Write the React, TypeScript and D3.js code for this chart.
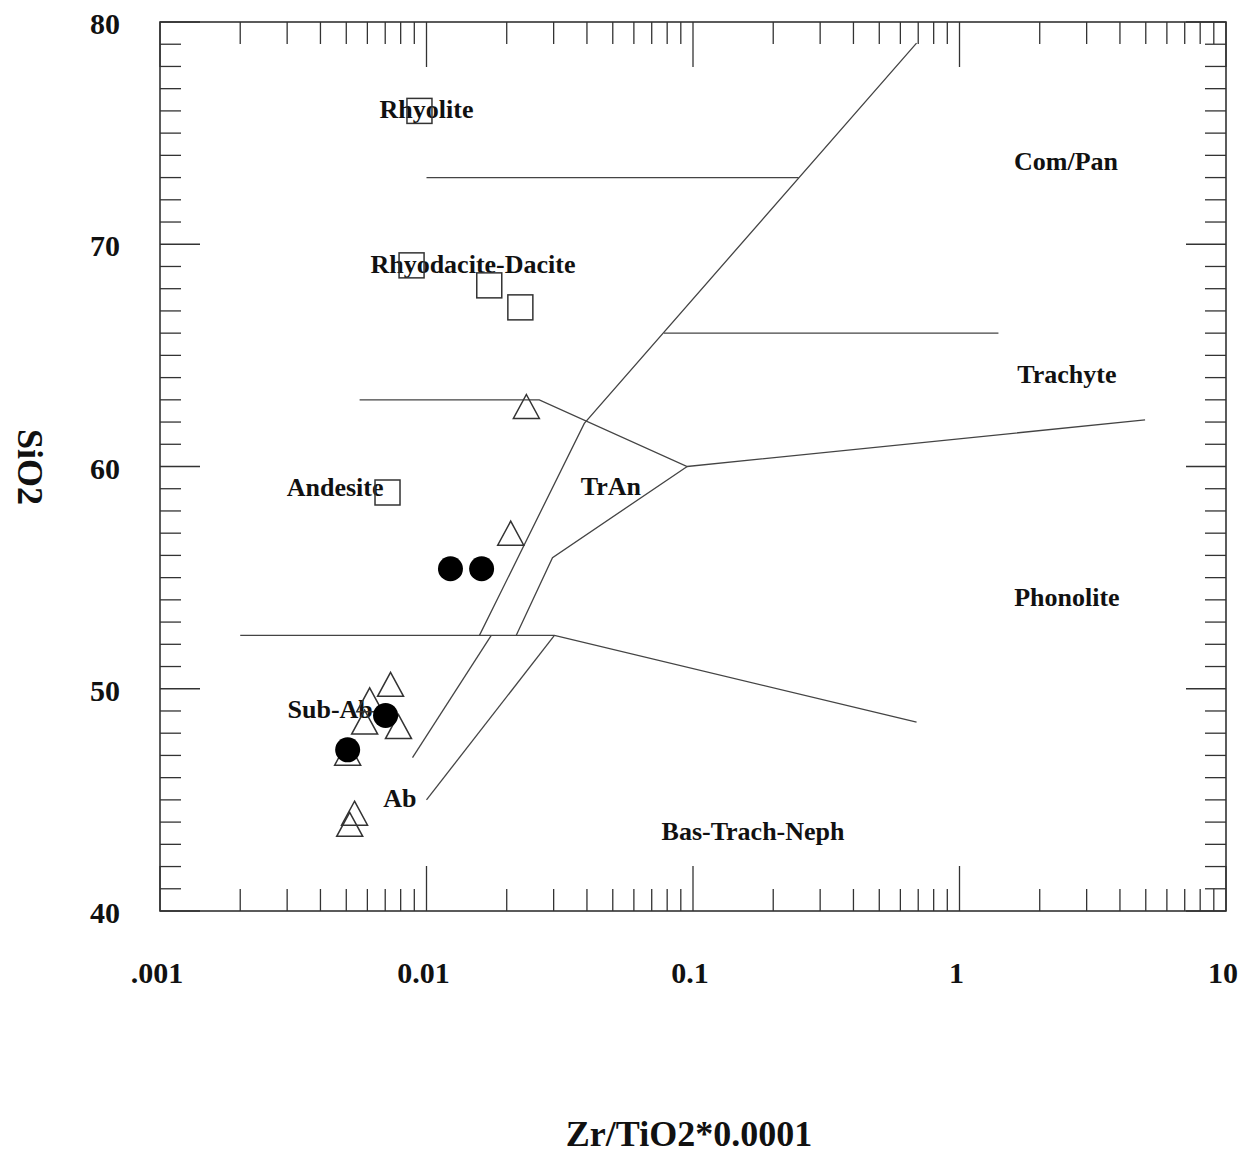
import React from "react";
import * as d3 from "d3";

// ---- Data ----
type Pt = [number, number];

// Field boundary polylines (Zr/TiO2*0.0001, SiO2)
const boundaryRhyolite: Pt[] = [[0.01, 73], [0.249, 73]];
const boundaryMain: Pt[] = [[0.69, 79.05], [0.0391, 61.94], [0.0158, 52.4]];
const boundaryMainLower: Pt[] = [[0.0175, 52.4], [0.00886, 46.9]];
const boundaryTrachyte: Pt[] = [[0.0778, 66.0], [1.4, 66.0]];
const boundaryAndesite: Pt[] = [[0.00561, 63.0], [0.0265, 63.0], [0.0951, 60.0], [4.97, 62.1]];
const boundaryTrAn: Pt[] = [[0.0951, 60.0], [0.0297, 55.9], [0.0217, 52.4]];
const boundaryBasalt: Pt[] = [[0.002, 52.4], [0.0302, 52.4], [0.69, 48.5]];
const boundaryAb: Pt[] = [[0.0302, 52.4], [0.01, 45.0]];
const boundaries: Pt[][] = [
  boundaryRhyolite,
  boundaryMain,
  boundaryMainLower,
  boundaryTrachyte,
  boundaryAndesite,
  boundaryTrAn,
  boundaryBasalt,
  boundaryAb,
];

// Field labels [name, Zr/TiO2, SiO2 baseline]
const fieldNames = ["Rhyolite", "Rhyodacite-Dacite", "Com/Pan", "Trachyte", "TrAn", "Andesite", "Phonolite", "Sub-Ab", "Ab", "Bas-Trach-Neph"];
const fieldX = [0.01, 0.01494, 2.51, 2.53, 0.0492, 0.00454, 2.53, 0.00435, 0.00795, 0.168];
const fieldY = [75.68, 68.71, 73.34, 63.76, 58.72, 58.67, 53.72, 48.68, 44.68, 43.2];

// Samples
const squaresX = [0.00941, 0.00879, 0.0172, 0.0225, 0.00714];
const squaresY = [76.0, 69.05, 68.15, 67.16, 58.83];
const trianglesX = [0.0237, 0.0207, 0.00733, 0.00612, 0.00586, 0.00785, 0.00506, 0.00537, 0.00515];
const trianglesY = [62.7, 57.0, 50.2, 49.5, 48.5, 48.3, 47.1, 44.4, 43.9];
const circlesX = [0.0123, 0.0161, 0.00702, 0.00506];
const circlesY = [55.4, 55.4, 48.8, 47.25];

// Axes
const xDomain: [number, number] = [0.001, 10];
const yDomain: [number, number] = [40, 80];
const xTickValues = [0.001, 0.01, 0.1, 1, 10];
const xTickLabels = [".001", "0.01", "0.1", "1", "10"];
const yTickValues = [40, 50, 60, 70, 80];
const xTitle = "Zr/TiO2*0.0001";
const yTitle = "SiO2";

export default function App() {
  const W = 1252, H = 1154;
  const L = 160, R = 1226, T = 22, B = 911;
  const x = d3.scaleLog().domain(xDomain).range([L, R]);
  const y = d3.scaleLinear().domain(yDomain).range([B, T]);
  const line = d3.line<Pt>().x((d) => x(d[0])).y((d) => y(d[1]));

  const xt = x.ticks();
  const yt = y.ticks(40);
  const isMajorX = (v: number) => Math.abs(Math.log10(v) - Math.round(Math.log10(v))) < 1e-6;
  const axisColor = "#333";
  const font = "'Liberation Serif', 'Times New Roman', serif";

  const triPath = (cx: number, cy: number) => {
    const w = 13, h = 12;
    return `M${cx},${cy - h}L${cx + w},${cy + h}L${cx - w},${cy + h}Z`;
  };

  return (
    <svg width={W} height={H} style={{ position: "absolute", left: 0, top: 0, background: "#fff" }} fontFamily={font}>
      <rect x={0} y={0} width={W} height={H} fill="#fff" />
      {/* ticks */}
      {xt.map((v, i) => {
        const px = x(v);
        const len = isMajorX(v) ? 45 : 22;
        return (
          <g key={"xt" + i} stroke={axisColor} strokeWidth={1.3}>
            <line x1={px} x2={px} y1={T} y2={T + len} />
            <line x1={px} x2={px} y1={B} y2={B - len} />
          </g>
        );
      })}
      {yt.map((v, i) => {
        const py = y(v);
        const len = v % 10 === 0 ? 40 : 21;
        return (
          <g key={"yt" + i} stroke={axisColor} strokeWidth={1.3}>
            <line x1={L} x2={L + len} y1={py} y2={py} />
            <line x1={R} x2={R - len} y1={py} y2={py} />
          </g>
        );
      })}
      <rect x={L} y={T} width={R - L} height={B - T} fill="none" stroke={axisColor} strokeWidth={1.6} />

      {/* tick labels */}
      {xTickValues.map((v, i) => (
        <text key={"xl" + i} x={x(v) - 3} y={983} textAnchor="middle" fontSize={30} fontWeight="bold" fill="#111">
          {xTickLabels[i]}
        </text>
      ))}
      {yTickValues.map((v, i) => (
        <text key={"yl" + i} x={120} y={y(v) + 12} textAnchor="end" fontSize={30} fontWeight="bold" fill="#111">
          {v}
        </text>
      ))}

      {/* axis titles */}
      <text x={689} y={1146} textAnchor="middle" fontSize={36} fontWeight="bold" fill="#111">
        {xTitle}
      </text>
      <text transform={`translate(18,${467}) rotate(90)`} textAnchor="middle" fontSize={36} fontWeight="bold" fill="#111">
        {yTitle}
      </text>

      {/* boundaries */}
      {boundaries.map((b, i) => (
        <path key={"b" + i} d={line(b) || ""} fill="none" stroke="#444" strokeWidth={1.3} />
      ))}

      {/* field labels */}
      {fieldNames.map((n, i) => (
        <text key={"f" + i} x={x(fieldX[i])} y={y(fieldY[i])} textAnchor="middle" fontSize={26} fontWeight="bold" fill="#111">
          {n}
        </text>
      ))}

      {/* samples */}
      {squaresX.map((v, i) => (
        <rect key={"s" + i} x={x(v) - 12.5} y={y(squaresY[i]) - 12.5} width={25} height={25} fill="none" stroke="#333" strokeWidth={1.5} />
      ))}
      {trianglesX.map((v, i) => (
        <path key={"t" + i} d={triPath(x(v), y(trianglesY[i]))} fill="none" stroke="#333" strokeWidth={1.5} />
      ))}
      {circlesX.map((v, i) => (
        <circle key={"c" + i} cx={x(v)} cy={y(circlesY[i])} r={12.5} fill="#000" />
      ))}
    </svg>
  );
}
